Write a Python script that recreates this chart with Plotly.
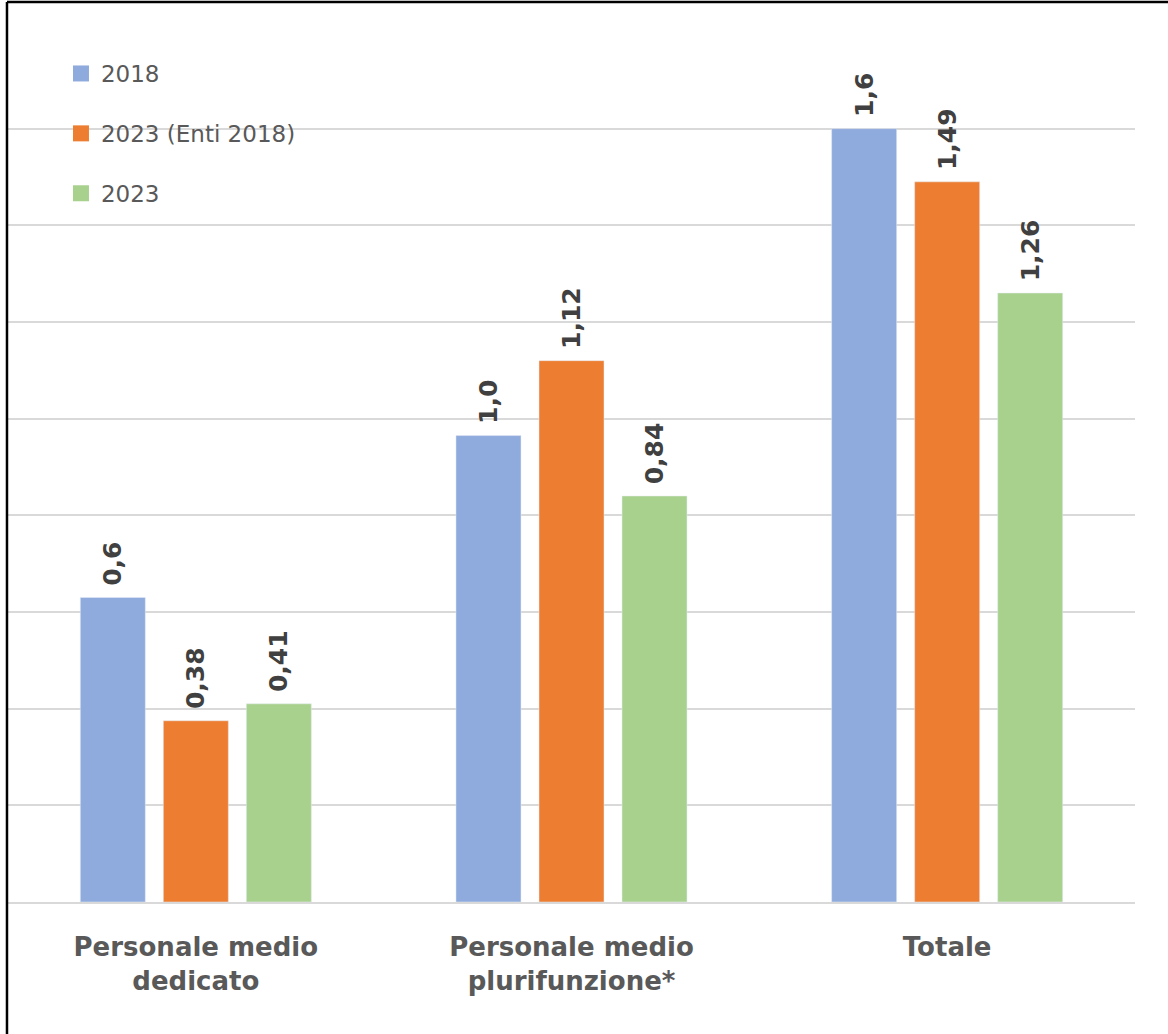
import plotly.graph_objects as go

categories = ["Personale medio<br>dedicato", "Personale medio<br>plurifunzione*", "Totale"]
series_names = ["2018", "2023 (Enti 2018)", "2023"]
values_2018 = [0.63, 0.965, 1.6]
values_2023_enti2018 = [0.375, 1.12, 1.49]
values_2023 = [0.41, 0.84, 1.26]
labels_2018 = ["0,6", "1,0", "1,6"]
labels_2023_enti2018 = ["0,38", "1,12", "1,49"]
labels_2023 = ["0,41", "0,84", "1,26"]

colors = ["#8FAADC", "#ED7D31", "#A9D18E"]
series_values = [values_2018, values_2023_enti2018, values_2023]
series_labels = [labels_2018, labels_2023_enti2018, labels_2023]

fig = go.Figure()
for name, vals, labs, col in zip(series_names, series_values, series_labels, colors):
    fig.add_trace(go.Bar(
        x=categories, y=vals, name=name, marker_color=col,
        text=["\u00a0" + l for l in labs], textposition="outside", textangle=-90,
        textfont=dict(family="DejaVu Sans", size=25, color="#404040", weight="bold"),
        constraintext="none", cliponaxis=False, showlegend=False,
    ))
for i, (name, col) in enumerate(zip(series_names, colors)):
    fig.add_trace(go.Scatter(
        x=[None], y=[None], mode="markers", name=name,
        marker=dict(symbol="square", size=16, color=col),
        legendgroup=f"g{i}", showlegend=True,
    ))

fig.update_layout(
    width=1168, height=1034,
    margin=dict(l=8, r=33, t=32, b=132),
    paper_bgcolor="white", plot_bgcolor="white",
    barmode="group", bargap=0.337, bargroupgap=0.217,
    legend=dict(
        x=0.047, y=0.977, xanchor="left", yanchor="top",
        font=dict(family="DejaVu Sans", size=23, color="#595959"),
        tracegroupgap=27, bgcolor="rgba(0,0,0,0)",
    ),
    showlegend=True,
    xaxis=dict(
        showgrid=False, showline=True, linecolor="#D9D9D9", linewidth=1.5,
        tickfont=dict(family="DejaVu Sans", size=26, color="#595959", weight="bold"),
        ticklabelstandoff=21, ticks="",
    ),
    yaxis=dict(
        range=[0, 1.8], dtick=0.2, showgrid=True, gridcolor="#D9D9D9", gridwidth=1.5,
        showticklabels=False, zeroline=False, ticks="",
    ),
    shapes=[
        dict(type="line", xref="paper", yref="paper", x0=-0.0009, x1=1.03, y0=1.0345, y1=1.0345,
             line=dict(color="black", width=2.5)),
        dict(type="line", xref="paper", yref="paper", x0=-0.0009, x1=-0.0009, y0=1.0345, y1=-0.16,
             line=dict(color="black", width=2.5)),
    ],
)

fig.write_html("out.html")
